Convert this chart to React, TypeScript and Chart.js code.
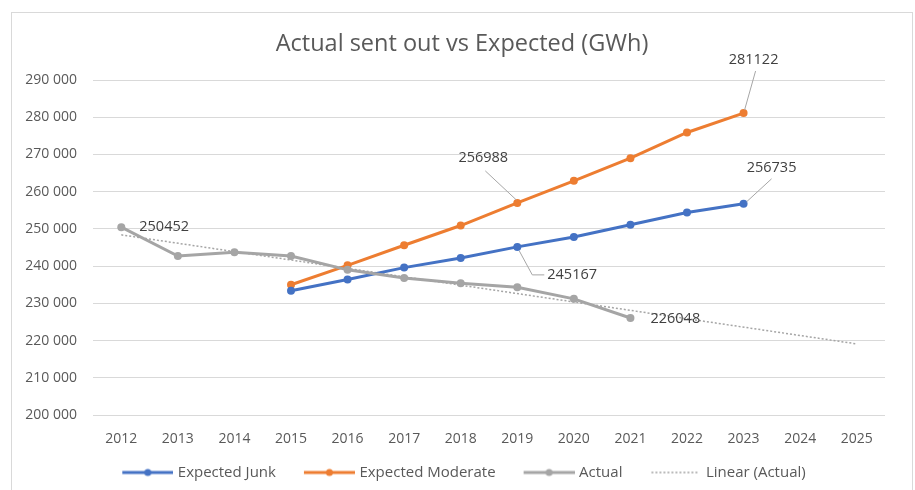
import React, { useEffect, useRef } from 'react';
import { Chart, registerables } from 'chart.js';

Chart.register(...registerables);

// ---- Data ----
const years = ['2012', '2013', '2014', '2015', '2016', '2017', '2018', '2019', '2020', '2021', '2022', '2023', '2024', '2025'];
const expectedJunk = [null, null, null, 233400, 236400, 239600, 242200, 245167, 247800, 251100, 254400, 256735, null, null];
const expectedModerate = [null, null, null, 235000, 240200, 245600, 250900, 256988, 262900, 269000, 275900, 281122, null, null];
const actual = [250452, 242700, 243700, 242700, 239000, 236800, 235400, 234300, 231200, 226048, null, null, null, null];
const linearActual = [248400, null, null, null, null, null, null, null, null, null, null, null, null, 219100];
const seriesNames = ['Expected Junk', 'Expected Moderate', 'Actual', 'Linear (Actual)'];
const yMin = 200000;
const yMax = 290000;
const yStep = 10000;
const titleText = 'Actual sent out vs Expected (GWh)';

const BLUE = '#4472C4';
const ORANGE = '#ED7D31';
const GREY = '#A5A5A5';
const FONT = "'Open Sans', sans-serif";

// data label specs (dataset index, point index, offsets in px)
const labelSpecs = [
  { ds: 2, idx: 0, dx: 18, dy: 0, align: 'left', leader: null },
  { ds: 1, idx: 7, dx: -34, dy: -45, align: 'center', leader: [[-32, -32], [-1, -3]] },
  { ds: 1, idx: 11, dx: 10, dy: -53, align: 'center', leader: [[12, -42], [1, -3]] },
  { ds: 0, idx: 11, dx: 28, dy: -36, align: 'center', leader: [[28, -25], [3, -2]] },
  { ds: 0, idx: 7, dx: 30, dy: 28, align: 'left', leader: [[2, 4], [15, 28], [27, 28]] },
  { ds: 2, idx: 9, dx: 20, dy: 1, align: 'left', leader: null },
];

const fmt = (v: number) => String(v).replace(/\B(?=(\d{3})+(?!\d))/g, ' ');

// legend icon: transparent lead, then the line sample
function makeIcon(color: string, dotted: boolean): HTMLCanvasElement {
  const c = document.createElement('canvas');
  c.width = 82;
  c.height = 12;
  const ctx = c.getContext('2d')!;
  ctx.strokeStyle = color;
  if (dotted) {
    ctx.lineWidth = 1.5;
    ctx.setLineDash([2, 2]);
    ctx.beginPath();
    ctx.moveTo(32, 6);
    ctx.lineTo(80, 6);
    ctx.stroke();
  } else {
    ctx.lineWidth = 3;
    ctx.beginPath();
    ctx.moveTo(31, 6);
    ctx.lineTo(82, 6);
    ctx.stroke();
    ctx.fillStyle = color;
    ctx.beginPath();
    ctx.arc(56.5, 6, 3.5, 0, Math.PI * 2);
    ctx.fill();
  }
  return c;
}

const titlePlugin = {
  id: 'customTitle',
  afterDraw(chart: any) {
    const ctx = chart.ctx;
    ctx.save();
    ctx.font = `23.5px ${FONT}`;
    ctx.fillStyle = '#595959';
    ctx.textAlign = 'center';
    ctx.textBaseline = 'middle';
    ctx.fillText(titleText, 462, 44);
    ctx.restore();
  },
};

const dataLabelPlugin = {
  id: 'customDataLabels',
  afterDatasetsDraw(chart: any) {
    const ctx = chart.ctx;
    ctx.save();
    ctx.font = `14.5px ${FONT}`;
    ctx.fillStyle = '#404040';
    ctx.textBaseline = 'middle';
    for (const s of labelSpecs) {
      const meta = chart.getDatasetMeta(s.ds);
      const pt = meta.data[s.idx];
      if (!pt) continue;
      const value = chart.data.datasets[s.ds].data[s.idx];
      const px = pt.x;
      const py = pt.y;
      if (s.leader) {
        ctx.strokeStyle = '#A6A6A6';
        ctx.lineWidth = 1;
        ctx.beginPath();
        s.leader.forEach((p: number[], i: number) => {
          if (i === 0) ctx.moveTo(px + p[0], py + p[1]);
          else ctx.lineTo(px + p[0], py + p[1]);
        });
        ctx.stroke();
      }
      ctx.textAlign = s.align;
      ctx.fillText(String(value), px + s.dx, py + s.dy);
    }
    ctx.restore();
  },
};

export default function App() {
  const ref = useRef<HTMLCanvasElement>(null);

  useEffect(() => {
    document.body.style.margin = '0';
    const icons = [makeIcon(BLUE, false), makeIcon(ORANGE, false), makeIcon(GREY, false), makeIcon(GREY, true)];
    const chart = new Chart(ref.current!, {
      type: 'line',
      data: {
        labels: years,
        datasets: [
          {
            label: seriesNames[0], data: expectedJunk, borderColor: BLUE, backgroundColor: BLUE,
            borderWidth: 3, pointRadius: 4, pointBorderWidth: 0, pointBackgroundColor: BLUE, order: 2,
          },
          {
            label: seriesNames[1], data: expectedModerate, borderColor: ORANGE, backgroundColor: ORANGE,
            borderWidth: 3, pointRadius: 4, pointBorderWidth: 0, pointBackgroundColor: ORANGE, order: 3,
          },
          {
            label: seriesNames[2], data: actual, borderColor: GREY, backgroundColor: GREY,
            borderWidth: 3, pointRadius: 4, pointBorderWidth: 0, pointBackgroundColor: GREY, order: 1,
          },
          {
            label: seriesNames[3], data: linearActual, borderColor: GREY, backgroundColor: GREY,
            borderWidth: 1.5, borderDash: [2, 2], pointRadius: 0, spanGaps: true, order: 4,
          },
        ],
      },
      options: {
        responsive: false,
        animation: false,
        layout: { padding: { left: 15, right: 30, top: 80, bottom: 0 } },
        plugins: {
          title: { display: false },
          legend: {
            display: true,
            position: 'bottom',
            labels: {
              usePointStyle: true,
              pointStyleWidth: 76,
              padding: 0,
              color: '#595959',
              font: { family: FONT, size: 15 },
              generateLabels: () =>
                seriesNames.map((name, i) => ({
                  text: name,
                  pointStyle: icons[i],
                  fillStyle: 'transparent',
                  strokeStyle: 'transparent',
                  lineWidth: 0,
                  hidden: false,
                  datasetIndex: i,
                  fontColor: '#595959',
                })),
            },
          },
          tooltip: { enabled: false },
        },
        scales: {
          x: {
            offset: true,
            grid: { display: false, offset: true },
            border: { display: false },
            ticks: { color: '#595959', font: { family: FONT, size: 14 }, padding: 8, maxRotation: 0 },
            afterFit: (s: any) => { s.height = 50; },
          },
          y: {
            min: yMin,
            max: yMax,
            grid: { color: '#D9D9D9', lineWidth: 1, drawTicks: false },
            border: { display: false },
            ticks: {
              stepSize: yStep,
              color: '#595959',
              font: { family: FONT, size: 14 },
              padding: 16,
              callback: (v: any) => fmt(Number(v)),
            },
            afterFit: (s: any) => { s.width = 78; },
          },
        },
      },
      plugins: [dataLabelPlugin, titlePlugin],
    } as any);
    return () => chart.destroy();
  }, []);

  return (
    <div style={{ position: 'relative', width: 915, height: 490, overflow: 'hidden', background: '#fff' }}>
      <div style={{ position: 'absolute', left: 11, top: 12, width: 900, height: 500, border: '1px solid #D9D9D9' }} />
      <canvas ref={ref} width={915} height={490} style={{ position: 'absolute', left: 0, top: 0, display: 'block' }} />
    </div>
  );
}
